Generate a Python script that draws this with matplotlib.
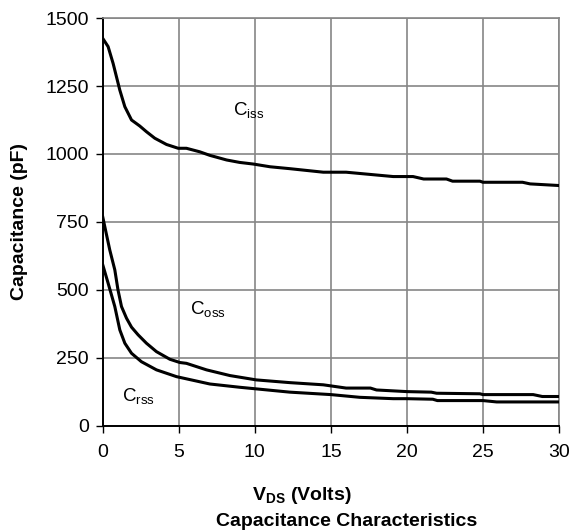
import matplotlib.pyplot as plt

plt.rcParams['font.family'] = ['Liberation Sans', 'DejaVu Sans']

# values
vds_iss = [0, 0.35, 0.68, 0.9, 1.12, 1.45, 1.89, 2.43, 2.87, 3.42, 4.19, 4.96, 5.5, 6.38,
           7.04, 8.14, 9.0, 9.9, 11.0, 12.3, 14.5, 16.0, 19.1, 20.4, 21.1, 22.6, 23.0,
           24.8, 25.0, 27.6, 28.1, 30]
ciss = [1425, 1395, 1333, 1284, 1235, 1174, 1125, 1103, 1082, 1058, 1035, 1021, 1021, 1008,
        995, 978, 969, 963, 953, 946, 933, 933, 917, 917, 908, 908, 900,
        900, 896, 896, 890, 884]

vds_oss = [0, 0.2, 0.46, 0.79, 1.0, 1.23, 1.56, 1.89, 2.32, 2.87, 3.53, 4.41, 5.07, 5.5,
           6.82, 8.36, 10.1, 12.3, 14.5, 16.0, 17.6, 18.0, 20.0, 21.6, 21.95, 24.8, 25.0,
           28.3, 28.9, 30]
coss = [768, 715, 647, 574, 500, 439, 396, 363, 335, 304, 273, 245, 233, 230,
        206, 185, 169, 159, 151, 139, 139, 132, 126, 124, 120, 118, 115,
        115, 108, 108]

vds_rss = [0, 0.35, 0.79, 1.12, 1.45, 1.89, 2.54, 3.53, 4.85, 7.04, 9.0, 12.3, 15.0, 16.9,
           19.1, 20.0, 21.7, 22.0, 25.0, 25.9, 30]
crss = [592, 525, 439, 353, 304, 267, 236, 206, 181, 154, 142, 124, 115, 105,
        100, 100, 98, 93, 93, 88, 88]

fig = plt.figure(figsize=(5.71, 5.31), dpi=100)
ax = fig.add_axes([0.180, 0.198, 0.799, 0.768])

for x, y in [(vds_iss, ciss), (vds_oss, coss), (vds_rss, crss)]:
    ax.plot(x, y, color='black', lw=2.2, zorder=3, solid_joinstyle='round')

ax.set_xlim(0, 30)
ax.set_ylim(0, 1500)
ax.set_xticks(range(0, 31, 5))
ax.set_yticks(range(0, 1501, 250))
ax.grid(True, color='#868686', lw=1.2)
ax.set_axisbelow(True)
ax.tick_params(direction='out', length=5, width=1, labelsize=14, colors='black')
ax.tick_params(axis='x', pad=8)
ax.tick_params(axis='y', pad=5)
for s in ['top', 'right']:
    ax.spines[s].set_color('#868686')
    ax.spines[s].set_linewidth(1.2)
for s in ['left', 'bottom']:
    ax.spines[s].set_color('black')
    ax.spines[s].set_linewidth(1.4)

ax.text(8.55, 1140, r'C$_{\mathregular{iss}}$', fontsize=13.5, ha='left', va='baseline')
ax.text(5.72, 408, r'C$_{\mathregular{oss}}$', fontsize=13.5, ha='left', va='baseline')
ax.text(1.25, 88, r'C$_{\mathregular{rss}}$', fontsize=13.5, ha='left', va='baseline')

fig.text(20 / 571, 1 - 221 / 531, 'Capacitance (pF)', fontsize=14, fontweight='bold',
         rotation=90, ha='center', va='center')
fig.text(302 / 571, 1 - 496 / 531, r'V$_{\mathregular{DS}}$ (Volts)', fontsize=14,
         fontweight='bold', ha='center', va='center')
fig.text(347 / 571, 1 - 521 / 531, 'Capacitance Characteristics', fontsize=14,
         fontweight='bold', ha='center', va='center')

plt.savefig('out.png', dpi=100)
